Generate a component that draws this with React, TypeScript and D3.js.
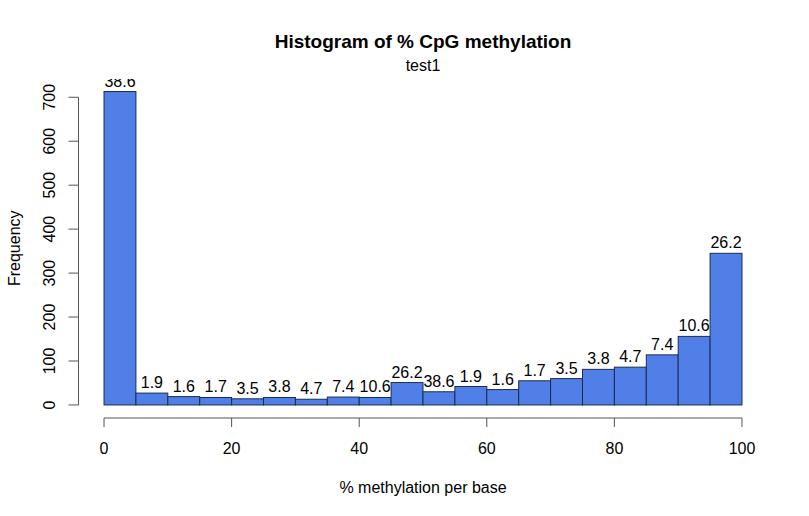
import React from "react";
import * as d3 from "d3";

const binStarts = [0, 5, 10, 15, 20, 25, 30, 35, 40, 45, 50, 55, 60, 65, 70, 75, 80, 85, 90, 95];
const binWidth = 5;
const counts = [713, 27, 19, 17, 14, 17, 13, 18, 17, 51, 30, 42, 35, 55, 60, 81, 86, 114, 156, 345];
const barLabels = ["38.6", "1.9", "1.6", "1.7", "3.5", "3.8", "4.7", "7.4", "10.6", "26.2",
  "38.6", "1.9", "1.6", "1.7", "3.5", "3.8", "4.7", "7.4", "10.6", "26.2"];
const xTicks = [0, 20, 40, 60, 80, 100];
const yTicks = [0, 100, 200, 300, 400, 500, 600, 700];

const W = 809, H = 516;
const FONT = "Liberation Sans, Arial, Helvetica, sans-serif";

export default function App() {
  const left = 78.5, right = 767.5, top = 79, bottom = 417.5;
  const xmin = 0, xmax = 100;
  const ymax = d3.max(counts) as number;
  const xExt = (xmax - xmin) * 0.04;
  const x = d3.scaleLinear().domain([xmin - xExt, xmax + xExt]).range([left, right]);
  const yExt = ymax * 0.04;
  const y = d3.scaleLinear().domain([-yExt, ymax + yExt]).range([bottom, top]);
  const axisColor = "#555";
  return (
    <div style={{ position: "absolute", left: 0, top: 0 }}>
      <svg width={W} height={H} style={{ display: "block", background: "#fff", fontFamily: FONT }}>
        <defs>
          <clipPath id="plotclip">
            <rect x={left} y={top} width={right - left} height={bottom - top} />
          </clipPath>
        </defs>
        <text x={(left + right) / 2} y={48} textAnchor="middle" fontSize={19} fontWeight="bold" fill="#000">
          Histogram of % CpG methylation
        </text>
        <text x={(left + right) / 2} y={71} textAnchor="middle" fontSize={16} fill="#000">test1</text>
        {binStarts.map((b, i) => (
          <rect key={i} x={x(b)} y={y(counts[i])} width={x(b + binWidth) - x(b)} height={y(0) - y(counts[i])}
            fill="#507FE8" stroke="#1c2b50" strokeWidth={1} />
        ))}
        <g clipPath="url(#plotclip)">
          {binStarts.map((b, i) => (
            <text key={i} x={x(b + binWidth / 2)} y={y(counts[i]) - 5} textAnchor="middle" fontSize={16} fill="#000">
              {barLabels[i]}
            </text>
          ))}
        </g>
        {/* x axis */}
        <line x1={x(xTicks[0])} x2={x(xTicks[xTicks.length - 1])} y1={418} y2={418} stroke={axisColor} />
        {xTicks.map((t) => (
          <g key={t}>
            <line x1={x(t)} x2={x(t)} y1={418} y2={427} stroke={axisColor} />
            <text x={x(t)} y={454} textAnchor="middle" fontSize={16} fill="#000">{t}</text>
          </g>
        ))}
        <text x={(left + right) / 2} y={493} textAnchor="middle" fontSize={16} fill="#000">% methylation per base</text>
        {/* y axis */}
        <line x1={left} x2={left} y1={y(yTicks[0])} y2={y(yTicks[yTicks.length - 1])} stroke={axisColor} />
        {yTicks.map((t) => (
          <g key={t}>
            <line x1={left - 10} x2={left} y1={y(t)} y2={y(t)} stroke={axisColor} />
            <text transform={`translate(55,${y(t)}) rotate(-90)`} textAnchor="middle" fontSize={16} fill="#000">{t}</text>
          </g>
        ))}
        <text transform={`translate(20,${(top + bottom) / 2}) rotate(-90)`} textAnchor="middle" fontSize={16} fill="#000">Frequency</text>
      </svg>
    </div>
  );
}
